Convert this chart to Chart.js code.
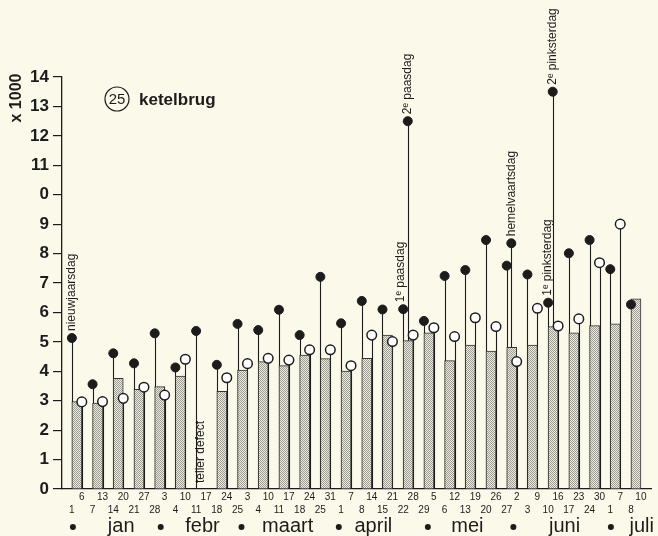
<!DOCTYPE html>
<html>
<head>
<meta charset="utf-8">
<script src="https://cdn.jsdelivr.net/npm/chart.js@4.4.0/dist/chart.umd.min.js"></script>
<style>
  html, body { margin: 0; padding: 0; background: #fbf9ea; }
  #wrap { width: 658px; height: 536px; }
</style>
</head>
<body>
<div id="wrap"><canvas id="grafiek" width="658" height="536"></canvas></div>
<script>
// weken van zondag t/m zaterdag, jan - juli
const weekStart = ["1","7","14","21","28","4","11","18","25","4","11","18","25","1","8","15","22","29","6","13","20","27","3","10","17","24","1","8"];
const weekEnd = ["6","13","20","27","3","10","17","24","3","10","17","24","31","7","14","21","28","5","12","19","26","2","9","16","23","30","7","10"];

// x 1000 voertuigen
const gemiddeld = [2.97, 2.92, 3.76, 3.39, 3.48, 3.84, null, 3.32, 4.04, 4.33, 4.19, 4.55, 4.43, 4.01, 4.44, 5.23, 5.04, 5.31, 4.36, 4.89, 4.69, 4.81, 4.89, 5.52, 5.31, 5.55, 5.61, 6.46];
const zondag = [5.13, 3.56, 4.61, 4.27, 5.29, 4.13, 5.37, 4.22, 5.61, 5.40, 6.09, 5.23, 7.21, 5.63, 6.39, 6.10, 6.11, 5.71, 7.24, 7.44, 8.46, 7.59, 7.29, 6.33, 8.01, 8.46, 7.47, 6.27];
const zaterdag = [2.96, 2.97, 3.08, 3.46, 3.19, 4.41, null, 3.78, 4.26, 4.44, 4.38, 4.73, 4.73, 4.19, 5.23, 5.01, 5.23, 5.48, 5.18, 5.82, 5.52, 4.33, 6.14, 5.54, 5.78, 7.69, 9.00, null];

// extra feestdagen binnen een week
const feestWeek = [16, 21, 23];
const feestWaarde = [12.5, 8.35, 13.5];

const yTickLabels = ["0","1","2","3","4","5","6","7","8","9","0","11","12","13","14"];

const maanden = ["jan", "febr", "maart", "april", "mei", "juni", "juli"];
const maandBegin = [-0.19, 4.05, 7.95, 12.65, 16.95, 21.08, 25.79];
const maandMidden = [2.14, 6.07, 10.18, 14.32, 18.86, 23.55, 27.28];

const notities = [
  { tekst: "nieuwjaarsdag", ds: 1, punt: 0 },
  { tekst: "1\u1D49 paasdag", ds: 1, punt: 16, dx: -3 },
  { tekst: "2\u1D49 paasdag", ds: 0, punt: 0 },
  { tekst: "hemelvaartsdag", ds: 0, punt: 1 },
  { tekst: "1\u1D49 pinksterdag", ds: 1, punt: 23 },
  { tekst: "2\u1D49 pinksterdag", ds: 0, punt: 2 },
];
const tellerDefect = 6;

const HALF = 0.24;   // halve balkbreedte in weken
const FEEST = 0.22;  // verschuiving feestdag-stip
const INKT = "#1c1c1c";
const FONT = "'Liberation Sans', Arial, sans-serif";

// gestippelde vulling voor de balken
function stippel() {
  const c = document.createElement("canvas");
  c.width = 2;
  c.height = 2;
  const g = c.getContext("2d");
  g.fillStyle = "#ecebe0";
  g.fillRect(0, 0, 2, 2);
  g.fillStyle = "#9c9c95";
  g.fillRect(0, 0, 1, 1);
  g.fillRect(1, 1, 1, 1);
  return g.createPattern(c, "repeat");
}

const stelen = {
  id: "stelen",
  beforeDatasetsDraw(chart) {
    const ctx = chart.ctx;
    const y0 = chart.scales.y.getPixelForValue(0);
    ctx.save();
    ctx.strokeStyle = INKT;
    ctx.lineWidth = 1.1;
    chart.data.datasets.forEach((ds, n) => {
      if (ds.type !== "scatter") return;
      chart.getDatasetMeta(n).data.forEach((el, i) => {
        if (ds.data[i].y == null) return;
        ctx.beginPath();
        ctx.moveTo(Math.round(el.x) + 0.5, el.y);
        ctx.lineTo(Math.round(el.x) + 0.5, y0);
        ctx.stroke();
      });
    });
    ctx.restore();
  },
};

const teksten = {
  id: "teksten",
  afterDraw(chart) {
    const ctx = chart.ctx;
    const xs = chart.scales.x;
    const area = chart.chartArea;
    ctx.save();
    ctx.fillStyle = INKT;

    // notities bij de stippen
    ctx.font = "12px " + FONT;
    ctx.textAlign = "left";
    ctx.textBaseline = "middle";
    notities.forEach((n) => {
      const el = chart.getDatasetMeta(n.ds).data[n.punt];
      ctx.save();
      ctx.translate(el.x + (n.dx || 0), el.y - 7);
      ctx.rotate(-Math.PI / 2);
      ctx.fillText(n.tekst, 0, 0);
      ctx.restore();
    });
    ctx.save();
    ctx.translate(xs.getPixelForValue(tellerDefect - HALF) + 5, area.bottom - 6);
    ctx.rotate(-Math.PI / 2);
    ctx.fillText("teller defect", 0, 0);
    ctx.restore();

    // datums onder de as
    ctx.font = "10px " + FONT;
    ctx.textAlign = "center";
    weekEnd.forEach((t, i) => ctx.fillText(t, xs.getPixelForValue(i + HALF), area.bottom + 8));
    weekStart.forEach((t, i) => ctx.fillText(t, xs.getPixelForValue(i - HALF), area.bottom + 21));

    // maanden
    ctx.font = "20px " + FONT;
    ctx.textBaseline = "alphabetic";
    maanden.forEach((m, k) => {
      ctx.beginPath();
      ctx.arc(xs.getPixelForValue(maandBegin[k]), area.bottom + 38, 3, 0, Math.PI * 2);
      ctx.fill();
      ctx.fillText(m, xs.getPixelForValue(maandMidden[k]), area.bottom + 43);
    });

    // titel
    ctx.textBaseline = "middle";
    ctx.lineWidth = 1.2;
    ctx.strokeStyle = INKT;
    ctx.beginPath();
    ctx.arc(117, 99, 12, 0, Math.PI * 2);
    ctx.stroke();
    ctx.font = "15px " + FONT;
    ctx.fillText("25", 117, 100);
    ctx.font = "bold 17px " + FONT;
    ctx.textAlign = "left";
    ctx.fillText("ketelbrug", 139, 100);

    // eenheid
    ctx.font = "bold 16px " + FONT;
    ctx.textAlign = "center";
    ctx.save();
    ctx.translate(17, 98);
    ctx.rotate(-Math.PI / 2);
    ctx.fillText("x 1000", 0, 0);
    ctx.restore();

    ctx.restore();
  },
};

const ctx = document.getElementById("grafiek");

new Chart(ctx, {
  type: "bar",
  data: {
    datasets: [
      {
        type: "scatter",
        label: "feestdag",
        data: feestWeek.map((w, k) => ({ x: w - HALF + FEEST, y: feestWaarde[k] })),
        pointRadius: 4.5,
        pointBackgroundColor: INKT,
        pointBorderColor: INKT,
        pointBorderWidth: 1,
      },
      {
        type: "scatter",
        label: "zondag",
        data: zondag.map((v, i) => ({ x: i - HALF, y: v })),
        pointRadius: 4.5,
        pointBackgroundColor: INKT,
        pointBorderColor: INKT,
        pointBorderWidth: 1,
      },
      {
        type: "scatter",
        label: "zaterdag",
        data: zaterdag.map((v, i) => ({ x: i + HALF, y: v })),
        pointRadius: 4.8,
        pointBackgroundColor: "#ffffff",
        pointBorderColor: INKT,
        pointBorderWidth: 1.5,
      },
      {
        type: "bar",
        label: "gemiddeld",
        data: gemiddeld.map((v, i) => ({ x: i, y: v })),
        backgroundColor: stippel(),
        borderColor: "#333330",
        borderWidth: 1,
        barThickness: 10,
      },
    ],
  },
  options: {
    responsive: false,
    animation: false,
    layout: { padding: { top: 77, right: 0, bottom: 0, left: 0 } },
    plugins: {
      legend: { display: false },
      tooltip: { enabled: false },
    },
    scales: {
      x: {
        type: "linear",
        min: -0.717,
        max: 27.76,
        offset: false,
        grid: { display: false },
        border: { display: true, color: INKT, width: 1.3 },
        ticks: { display: false },
        afterFit(scale) {
          scale.height = 47;
        },
      },
      y: {
        min: 0,
        max: 14,
        grid: {
          display: true,
          drawOnChartArea: false,
          drawTicks: true,
          tickLength: 9,
          color: INKT,
          lineWidth: 1.2,
        },
        border: { display: true, color: INKT, width: 1.3 },
        ticks: {
          stepSize: 1,
          padding: 4,
          color: INKT,
          font: { family: FONT, size: 17, weight: "bold" },
          callback: function (value) {
            return yTickLabels[value];
          },
        },
        afterFit(scale) {
          scale.width = 62;
        },
      },
    },
  },
  plugins: [stelen, teksten],
});
</script>
</body>
</html>
